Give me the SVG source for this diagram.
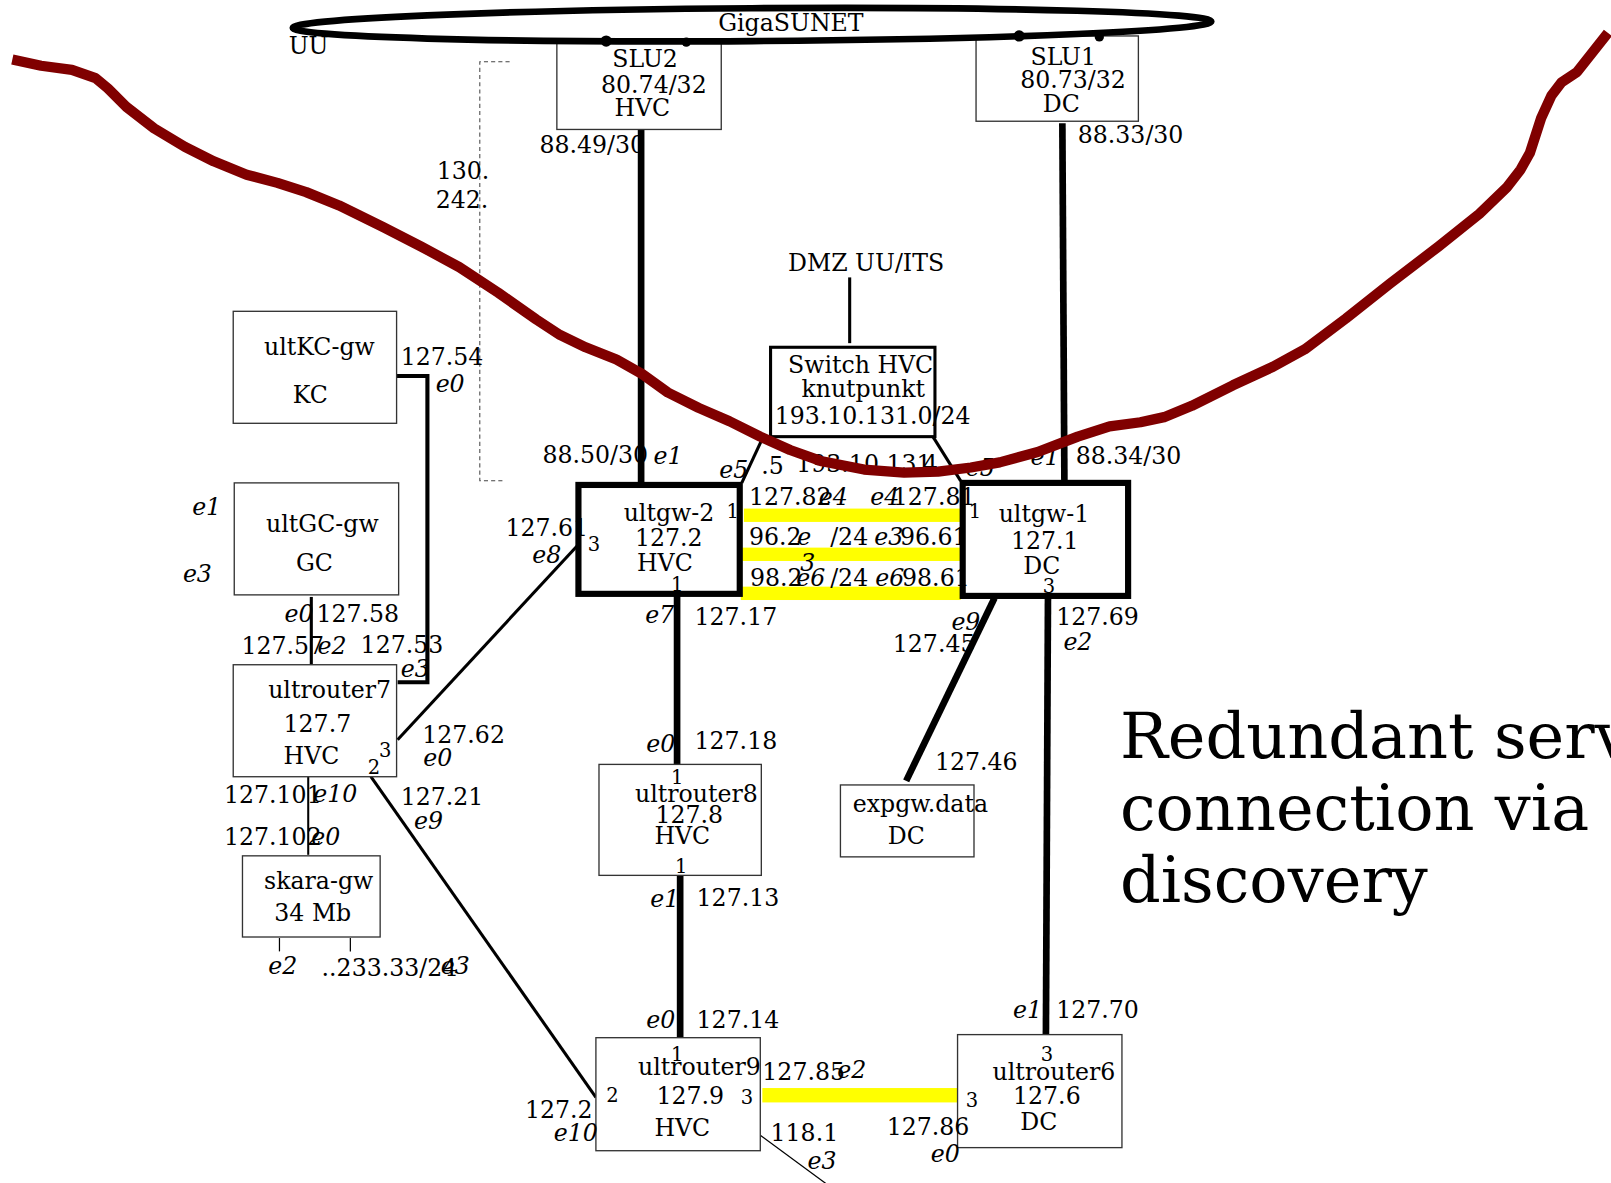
<svg xmlns="http://www.w3.org/2000/svg" width="1611" height="1183" viewBox="0 0 1611 1183">
<style>
text{font-family:"DejaVu Serif","Liberation Serif",serif;font-size:23px;fill:#000}
.i{font-style:italic}
.p{font-size:19px}
.title{font-size:62px}
.box{fill:#fff;stroke:#333;stroke-width:1.3}
.tbox{fill:#fff;stroke:#000;stroke-width:6}
.sbox{fill:#fff;stroke:#000;stroke-width:3}
.thick{stroke:#000;stroke-width:6.5;fill:none}
.med{stroke:#000;stroke-width:3;fill:none}
.thin{stroke:#000;stroke-width:1.2;fill:none}
.yel{fill:#ffff00}
.red{stroke:#800000;stroke-width:10;fill:none;stroke-linejoin:round}
</style>
<rect width="1611" height="1183" fill="#fff"/>
<g transform="scale(1.02742)">
<g id="connectors">
<line class="thick" x1="624" y1="126" x2="624" y2="472"/>
<line class="thick" x1="1034" y1="120" x2="1036" y2="470"/>
<line class="med" x1="827" y1="270" x2="827" y2="334"/>
<line class="med" x1="742" y1="427" x2="722" y2="470"/>
<line class="med" x1="908" y1="425" x2="935" y2="468"/>
<rect class="yel" x="724" y="495" width="212" height="13"/>
<rect class="yel" x="722" y="533" width="214" height="13"/>
<rect class="yel" x="721" y="571" width="214" height="13"/>
<line class="thick" x1="659" y1="578" x2="659" y2="745"/>
<line class="thick" x1="1020" y1="580" x2="1018" y2="1008"/>
<line class="thick" x1="968" y1="582" x2="882" y2="760"/>
<line class="med" x1="563" y1="530" x2="387" y2="720"/>
<line class="thick" x1="662" y1="852" x2="662" y2="1012"/>
<line class="med" x1="361" y1="756" x2="580" y2="1068"/>
<line class="thin" x1="740" y1="1105" x2="808" y2="1155"/>
<rect class="yel" x="742" y="1059" width="190" height="14"/>
<polyline points="386,366 416,366 416,664 387,664" stroke="#000" stroke-width="4" fill="none"/>
<line class="med" x1="303" y1="581" x2="303" y2="647"/>
<line x1="300" y1="756" x2="300" y2="832" stroke="#000" stroke-width="2"/>
<line class="thin" x1="272" y1="913" x2="272" y2="926"/>
<line class="thin" x1="341" y1="913" x2="341" y2="926"/>
<polyline points="496,60 467,60 467,468 492,468" stroke="#444" stroke-width="1" stroke-dasharray="4,3" fill="none"/>
</g>
<g id="slu2"><rect class="box" x="542" y="40" width="160" height="86"/>
<text x="596" y="65">SLU2</text><text x="585" y="91">80.74/32</text><text x="598" y="113">HVC</text></g>
<g id="slu1"><rect class="box" x="950" y="35" width="158" height="83"/>
<text x="1003" y="63">SLU1</text><text x="993" y="86">80.73/32</text><text x="1015" y="109">DC</text></g>
<g id="gigasunet">
<ellipse cx="732" cy="24" rx="447" ry="16" fill="none" stroke="#000" stroke-width="6.5" transform="rotate(-0.4 732 24)"/>
<circle cx="590" cy="40" r="5.5"/><circle cx="668" cy="41" r="4.5"/><circle cx="992" cy="35" r="5.5"/><circle cx="1070" cy="36" r="4.5"/>
<text x="699" y="30">GigaSUNET</text>
</g>
<text x="281" y="53">UU</text>
<text x="425" y="174">130.</text><text x="424" y="202">242.</text>
<g id="switch"><rect class="sbox" x="750" y="338" width="160" height="87"/>
<text x="767" y="363">Switch HVC</text><text x="780" y="386">knutpunkt</text><text x="754" y="413">193.10.131.0/24</text></g>
<text x="767" y="264">DMZ UU/ITS</text>
<g id="ultKC"><rect class="box" x="227" y="303" width="159" height="109"/>
<text x="257" y="346">ultKC-gw</text><text x="285" y="392">KC</text></g>
<g id="ultGC"><rect class="box" x="228" y="470" width="160" height="109"/>
<text x="259" y="518">ultGC-gw</text><text x="288" y="556">GC</text></g>
<g id="ultrouter7"><rect class="box" x="227" y="647" width="159" height="109"/>
<text x="261" y="679">ultrouter7</text><text x="276" y="712">127.7</text><text x="276" y="744">HVC</text>
<text class="p" x="369" y="737">3</text><text class="p" x="358" y="753">2</text></g>
<g id="skara"><rect class="box" x="236" y="833" width="134" height="79"/>
<text x="257" y="865">skara-gw</text><text x="267" y="896">34 Mb</text></g>
<g id="ultgw2"><rect class="tbox" x="563" y="472" width="157" height="106"/>
<text x="607" y="507">ultgw-2</text><text x="618" y="531">127.2</text><text x="620" y="556">HVC</text>
<text class="p" x="707" y="504">1</text><text class="p" x="572" y="536">3</text><text class="p" x="653" y="575">1</text></g>
<g id="ultgw1"><rect class="tbox" x="937" y="470" width="161" height="110"/>
<text x="972" y="508">ultgw-1</text><text x="984" y="534">127.1</text><text x="996" y="559">DC</text>
<text class="p" x="943" y="504">1</text><text class="p" x="1015" y="577">3</text></g>
<g id="ultrouter8"><rect class="box" x="583" y="744" width="158" height="108"/>
<text class="p" x="653" y="763">1</text><text x="618" y="781">ultrouter8</text><text x="638" y="801">127.8</text><text x="637" y="821">HVC</text>
<text class="p" x="657" y="850">1</text></g>
<g id="expgw"><rect class="box" x="818" y="764" width="130" height="70"/>
<text x="830" y="790">expgw.data</text><text x="864" y="821">DC</text></g>
<g id="ultrouter9"><rect class="box" x="580" y="1010" width="160" height="110"/>
<text class="p" x="653" y="1033">1</text><text x="621" y="1046">ultrouter9</text><text x="639" y="1075">127.9</text><text x="637" y="1106">HVC</text>
<text class="p" x="590" y="1073">2</text><text class="p" x="721" y="1075">3</text></g>
<g id="ultrouter6"><rect class="box" x="932" y="1007" width="160" height="110"/>
<text class="p" x="1013" y="1033">3</text><text x="966" y="1051">ultrouter6</text><text x="986" y="1075">127.6</text><text x="993" y="1100">DC</text>
<text class="p" x="940" y="1077">3</text></g>
<g id="labels">
<text x="525" y="149">88.49/30</text>
<text x="1049" y="139">88.33/30</text>
<text x="528" y="451">88.50/30</text><text class="i" x="636" y="452">e1</text>
<text class="i" x="700" y="465">e5</text><text x="741" y="461">.5</text><text x="775" y="459">193.10.131</text><text x="891" y="459">.4</text>
<text class="i" x="940" y="463">e5</text><text class="i" x="1003" y="453">e1</text><text x="1047" y="452">88.34/30</text>
<text x="390" y="355">127.54</text><text class="i" x="424" y="382">e0</text>
<text class="i" x="187" y="501">e1</text><text class="i" x="178" y="566">e3</text>
<text x="492" y="522">127.61</text><text class="i" x="518" y="548">e8</text>
<text x="729" y="492">127.82</text><text class="i" x="797" y="492">e4</text><text class="i" x="847" y="492">e4</text><text x="869" y="492">127.81</text>
<text x="729" y="530">96.2</text><text class="i" x="776" y="530">e</text><text class="i" x="779" y="556">3</text><text x="808" y="530">/24</text><text class="i" x="851" y="530">e3</text><text x="876" y="530">96.61</text>
<text x="730" y="570">98.2</text><text class="i" x="775" y="570">e6</text><text x="808" y="570">/24</text><text class="i" x="852" y="570">e6</text><text x="878" y="570">98.61</text>
<text class="i" x="628" y="606">e7</text><text x="676" y="608">127.17</text>
<text class="i" x="926" y="613">e9</text><text x="869" y="635">127.45</text>
<text x="1028" y="608">127.69</text><text class="i" x="1035" y="633">e2</text>
<text class="i" x="277" y="605">e0</text><text x="308" y="605">127.58</text>
<text x="235" y="637">127.57</text><text class="i" x="309" y="637">e2</text><text x="351" y="636">127.53</text><text class="i" x="390" y="659">e3</text>
<text x="411" y="723">127.62</text><text class="i" x="412" y="746">e0</text>
<text x="218" y="782">127.101</text><text class="i" x="305" y="781">e10</text>
<text x="218" y="822">127.102</text><text class="i" x="303" y="822">e0</text>
<text x="390" y="784">127.21</text><text class="i" x="403" y="807">e9</text>
<text class="i" x="629" y="732">e0</text><text x="676" y="729">127.18</text>
<text x="910" y="749">127.46</text>
<text class="i" x="261" y="948">e2</text><text x="313" y="950">..233.33/24</text><text class="i" x="429" y="948">e3</text>
<text class="i" x="633" y="883">e1</text><text x="678" y="882">127.13</text>
<text class="i" x="629" y="1001">e0</text><text x="678" y="1001">127.14</text>
<text class="i" x="986" y="991">e1</text><text x="1028" y="991">127.70</text>
<text x="742" y="1051">127.85</text><text class="i" x="815" y="1049">e2</text>
<text x="511" y="1088">127.2</text><text class="i" x="539" y="1111">e10</text>
<text x="750" y="1111">118.1</text><text class="i" x="786" y="1138">e3</text>
<text x="863" y="1105">127.86</text><text class="i" x="906" y="1131">e0</text>
</g>
<g id="title">
<text class="title" x="1090" y="738">Redundant serv</text>
<text class="title" x="1090" y="808">connection via</text>
<text class="title" x="1090" y="878">discovery</text>
</g>
<polyline class="red" points="12,58 40,64 70,68 93,76 105,86 123,104 150,125 180,143 208,157 240,170 270,178 298,187 330,200 373,221 410,240 447,260 485,285 522,311 545,326 570,338 600,350 625,364 650,382 680,397 710,410 740,425 769,438 800,449 841,457 880,460 913,459 945,455 973,450 1010,440 1049,425 1080,415 1110,411 1133,406 1160,395 1200,375 1239,357 1270,340 1310,310 1353,276 1400,240 1440,208 1467,182 1480,165 1489,149 1500,115 1510,93 1520,80 1535,70 1565,32"/>
</g>
</svg>
